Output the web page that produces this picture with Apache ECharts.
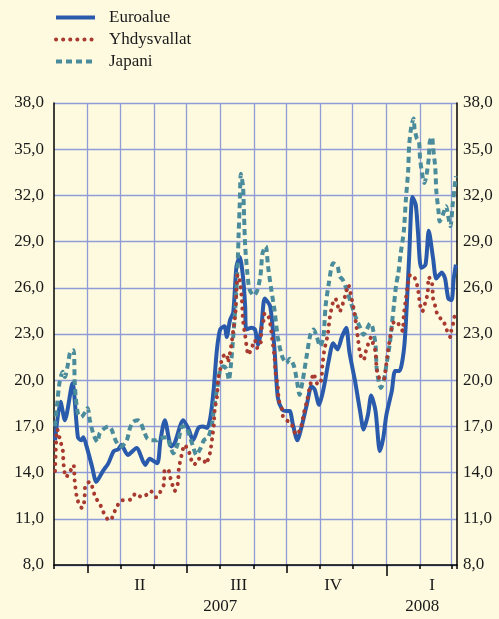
<!DOCTYPE html>
<html>
<head>
<meta charset="utf-8">
<script src="https://cdn.jsdelivr.net/npm/echarts@6/dist/echarts.min.js"></script>
<style>
  html, body { margin: 0; padding: 0; background: #fefae0; }
  #chart { width: 499px; height: 619px; }
</style>
</head>
<body>
<div id="chart"></div>
<script>
// x = day index counted from 1 March 2007 (0) to 6 March 2008 (371)
const dayCount = 372;
const monthStarts = [0, 31, 61, 92, 122, 153, 184, 214, 245, 275, 306, 337, 366, 371];
const quarterStarts = [31, 122, 214];
const yearStarts = [306];
const quarterLabels = { 79: 'II', 170: 'III', 257: 'IV', 348: 'I' };
const yearLabels = { 153: '2007', 339: '2008' };
const seriesNames = ['Euroalue', 'Yhdysvallat', 'Japani'];

const euroalue = [
  [1, 16.1], [6, 18.6], [10, 17.4], [17, 19.8], [22, 16.3], [25, 16.1], [27, 16.3], [30, 15.7],
  [35, 14.4], [39, 13.4], [45, 14.1], [50, 14.6], [55, 15.4], [59, 15.5], [62, 15.8], [68, 15.15],
  [76, 15.6], [84, 14.5], [88, 14.9], [95, 14.6], [98, 16.1], [102, 17.4], [108, 15.7], [111, 15.9],
  [119, 17.4], [124, 16.8], [128, 16.1], [133, 16.9], [137, 17.0], [141, 16.9], [144, 17.6], [147, 19.4],
  [150, 22.0], [153, 23.3], [157, 23.5], [159, 22.8], [162, 23.9], [165, 24.4], [168, 27.4], [171, 28.0],
  [174, 26.7], [176, 24.8], [177, 23.3], [182, 23.4], [185, 23.3], [188, 22.3], [191, 23.5], [194, 25.3],
  [199, 24.8], [203, 22.0], [206, 18.9], [210, 18.1], [214, 18.0], [217, 18.0], [220, 17.1], [224, 16.1],
  [228, 17.0], [233, 18.5], [237, 19.6], [240, 19.4], [244, 18.4], [248, 19.4], [253, 21.3], [257, 22.4],
  [261, 22.0], [265, 22.8], [269, 23.4], [272, 21.8], [277, 20.0], [282, 17.9], [285, 16.8], [289, 17.75],
  [292, 19.0], [296, 18.0], [300, 15.4], [303, 16.2], [306, 17.75], [311, 19.3], [314, 20.6], [318, 20.6],
  [322, 21.9], [324, 23.8], [327, 28.1], [330, 31.9], [333, 31.4], [335, 29.7], [338, 27.3], [342, 27.5],
  [345, 29.7], [349, 27.9], [352, 26.6], [357, 27.0], [360, 26.6], [363, 25.3], [366, 25.2], [368, 26.6],
  [370, 27.5]
];

const yhdysvallat = [
  [1, 14.1], [2, 16.1], [3, 16.8], [6, 16.0], [8, 15.5], [9, 14.4], [11, 13.7], [15, 14.1],
  [18, 14.5], [19, 13.5], [21, 12.4], [24, 11.8], [26, 11.7], [28, 12.2], [29, 13.2], [33, 13.4],
  [36, 12.9], [38, 12.4], [42, 12.0], [45, 11.5], [49, 11.0], [52, 10.9], [55, 11.35], [58, 11.8],
  [62, 12.2], [67, 12.2], [72, 12.3], [75, 12.65], [81, 12.4], [85, 12.55], [89, 12.8], [94, 12.4],
  [97, 12.65], [101, 13.2], [102, 14.2], [105, 14.2], [107, 13.7], [109, 13.2], [111, 12.8], [114, 13.3],
  [115, 14.3], [118, 15.3], [120, 15.8], [124, 15.4], [126, 14.9], [129, 14.5], [133, 14.9], [137, 14.9],
  [140, 14.55], [142, 14.9], [144, 15.4], [146, 16.45], [147, 17.0], [148, 18.1], [150, 18.9], [151, 20.0],
  [153, 20.7], [155, 21.5], [159, 21.7], [160, 21.15], [163, 22.2], [165, 23.2], [167, 24.35], [168, 25.9],
  [169, 26.85], [171, 26.5], [173, 25.2], [174, 23.9], [176, 22.9], [179, 21.65], [182, 22.1], [185, 22.6],
  [187, 22.1], [190, 22.3], [191, 23.3], [193, 23.9], [194, 24.35], [197, 24.2], [199, 23.7], [201, 22.6],
  [203, 21.5], [204, 20.45], [206, 19.6], [207, 18.7], [210, 18.1], [211, 17.6], [216, 17.3], [219, 17.1],
  [221, 16.7], [223, 16.45], [226, 16.7], [228, 17.1], [230, 17.85], [233, 18.7], [235, 19.4], [237, 20.0],
  [239, 20.45], [241, 20.0], [243, 19.7], [246, 20.0], [247, 20.9], [249, 22.0], [252, 22.95], [254, 24.1],
  [257, 25.1], [259, 25.3], [261, 24.9], [263, 24.45], [265, 24.8], [267, 25.2], [269, 25.75], [271, 26.2],
  [273, 25.65], [276, 24.6], [278, 23.7], [280, 22.6], [282, 21.65], [285, 21.3], [287, 21.85], [289, 22.3],
  [292, 22.8], [294, 22.3], [296, 21.85], [297, 20.8], [299, 20.2], [302, 20.0], [304, 20.1], [305, 20.55],
  [307, 21.65], [309, 22.6], [311, 23.4], [312, 23.7], [315, 23.85], [319, 23.4], [321, 23.2], [322, 24.25],
  [324, 25.3], [326, 26.3], [328, 26.85], [331, 26.75], [333, 26.5], [335, 25.95], [336, 25.4], [337, 24.9],
  [339, 24.45], [342, 25.1], [344, 25.65], [345, 26.7], [348, 26.3], [349, 25.3], [351, 24.8], [353, 24.25],
  [356, 24.0], [358, 23.9], [361, 23.4], [363, 22.95], [365, 22.8], [366, 23.35], [368, 23.8], [369, 24.3],
  [370, 24.5]
];

const japani = [
  [1, 17.0], [3, 18.5], [5, 19.8], [8, 20.55], [10, 20.2], [13, 21.1], [15, 21.85], [18, 21.95],
  [19, 20.0], [20, 18.9], [22, 17.85], [25, 17.6], [29, 17.95], [31, 18.2], [33, 17.4], [36, 16.55],
  [38, 16.2], [40, 16.0], [42, 16.55], [45, 16.8], [50, 17.0], [53, 16.8], [56, 16.2], [59, 15.8],
  [62, 15.7], [67, 16.1], [70, 16.9], [73, 17.3], [77, 17.4], [80, 17.2], [83, 16.65], [86, 16.2],
  [90, 16.1], [95, 16.1], [96, 16.2], [104, 16.3], [107, 15.7], [110, 15.25], [114, 15.9], [118, 17.0],
  [121, 17.0], [124, 16.55], [128, 15.7], [131, 15.15], [135, 15.6], [138, 16.1], [142, 16.3], [145, 17.0],
  [148, 18.5], [151, 19.8], [153, 20.7], [156, 20.9], [159, 20.7], [161, 20.0], [163, 21.1], [165, 22.8],
  [167, 24.8], [169, 27.4], [170, 29.55], [171, 31.5], [172, 33.4], [174, 32.6], [175, 30.6], [176, 28.7],
  [178, 26.95], [180, 25.9], [184, 25.5], [187, 25.8], [190, 26.75], [192, 28.25], [195, 28.7], [197, 27.4],
  [200, 25.9], [203, 24.55], [206, 22.8], [210, 21.55], [214, 21.1], [217, 21.4], [221, 20.9], [224, 19.8],
  [226, 19.05], [229, 20.0], [233, 21.75], [236, 22.95], [239, 23.3], [242, 22.8], [245, 22.2], [248, 22.8],
  [250, 24.8], [253, 26.3], [257, 27.6], [261, 27.4], [263, 26.75], [266, 26.5], [270, 25.75], [273, 25.1],
  [276, 24.45], [279, 23.85], [282, 23.4], [285, 22.95], [288, 23.3], [291, 23.7], [293, 23.5], [296, 22.3],
  [297, 20.8], [299, 19.9], [301, 19.5], [304, 20.1], [306, 21.0], [309, 22.3], [311, 23.6], [313, 24.9],
  [315, 26.2], [317, 26.95], [319, 28.15], [322, 29.65], [324, 31.8], [326, 33.55], [327, 35.3], [329, 36.5],
  [331, 37.0], [332, 36.3], [334, 35.7], [336, 35.5], [337, 34.4], [339, 33.35], [341, 32.8], [343, 33.35],
  [345, 34.4], [346, 35.5], [348, 35.8], [349, 35.1], [351, 33.8], [352, 32.25], [354, 30.95], [355, 30.3],
  [358, 30.75], [361, 31.3], [363, 30.6], [365, 30.0], [367, 31.4], [369, 32.7], [370, 33.25]
];

const days = Array.from({ length: dayCount }, (_, i) => String(i));

const chart = echarts.init(document.getElementById('chart'));

const textFont = {
  fontFamily: 'Liberation Serif',
  fontSize: 17,
  color: '#1a1a1a'
};

const fmt = function (v) {
  return v.toFixed(1).replace('.', ',');
};

const baseX = {
  type: 'category',
  data: days,
  boundaryGap: false,
  position: 'bottom',
  offset: 0,
  axisLine: { show: false },
  axisTick: { show: false },
  axisLabel: { show: false },
  splitLine: { show: false }
};

const option = {
  backgroundColor: '#fefae0',
  animation: false,
  legend: {
    data: seriesNames,
    orient: 'vertical',
    left: 49,
    top: 4,
    itemWidth: 39,
    itemHeight: 14,
    itemGap: 5,
    // hide the symbol, keep only the line sample
    itemStyle: { color: 'rgba(0,0,0,0)', borderColor: 'rgba(0,0,0,0)', borderWidth: 0 },
    lineStyle: { width: 4 },
    textStyle: Object.assign({ padding: [0, 0, 0, 9] }, textFont)
  },
  grid: {
    left: 54,
    right: 42,
    top: 103,
    bottom: 54
  },
  xAxis: [
    Object.assign({}, baseX, {
      axisLine: { show: true, lineStyle: { color: '#000', width: 1.5 } },
      axisTick: {
        show: true,
        length: 4,
        interval: (idx) => monthStarts.includes(idx),
        lineStyle: { color: '#000', width: 1.5 }
      },
      splitLine: {
        show: true,
        interval: (idx) => monthStarts.includes(idx) && idx > 0 && idx < dayCount - 1,
        lineStyle: { color: '#8e9cd8', width: 1.3 }
      },
      axisLabel: Object.assign({
        show: true,
        margin: 12,
        interval: (idx) => quarterLabels[idx] !== undefined,
        formatter: (v, idx) => quarterLabels[idx] || ''
      }, textFont)
    }),
    Object.assign({}, baseX, {
      axisTick: {
        show: true,
        length: 8,
        interval: (idx) => quarterStarts.includes(idx),
        lineStyle: { color: '#000', width: 1.5 }
      },
      axisLabel: Object.assign({
        show: true,
        margin: 33,
        interval: (idx) => yearLabels[idx] !== undefined,
        formatter: (v, idx) => yearLabels[idx] || ''
      }, textFont)
    }),
    Object.assign({}, baseX, {
      axisTick: {
        show: true,
        length: 11,
        interval: (idx) => yearStarts.includes(idx),
        lineStyle: { color: '#000', width: 1.5 }
      }
    })
  ],
  yAxis: [
    {
      type: 'value',
      position: 'left',
      min: 8,
      max: 38,
      interval: 3,
      axisLine: { show: true, lineStyle: { color: '#000', width: 1.5 } },
      axisTick: { show: false },
      axisLabel: Object.assign({ margin: 10, formatter: fmt }, textFont),
      splitLine: { show: true, lineStyle: { color: '#8e9cd8', width: 1.3 } }
    },
    {
      type: 'value',
      position: 'right',
      min: 8,
      max: 38,
      interval: 3,
      axisLine: { show: true, lineStyle: { color: '#000', width: 1.5 } },
      axisTick: { show: false },
      axisLabel: Object.assign({ margin: 6, formatter: fmt }, textFont),
      splitLine: { show: false }
    }
  ],
  series: [
    {
      name: 'Euroalue',
      type: 'line',
      data: euroalue,
      smooth: 0.25,
      symbol: 'none',
      z: 2,
      itemStyle: { color: '#2a5aab' },
      lineStyle: { color: '#2a5aab', width: 4 }
    },
    {
      name: 'Japani',
      type: 'line',
      data: japani,
      smooth: 0.25,
      symbol: 'none',
      z: 3,
      itemStyle: { color: '#4b8c9c' },
      lineStyle: { color: '#4b8c9c', width: 4, type: [6, 4] }
    },
    {
      name: 'Yhdysvallat',
      type: 'line',
      data: yhdysvallat,
      smooth: 0.25,
      symbol: 'none',
      z: 4,
      itemStyle: { color: '#a83a30' },
      lineStyle: { color: '#a83a30', width: 4, type: [0.1, 7], cap: 'round' }
    }
  ]
};

chart.setOption(option);
</script>
</body>
</html>
